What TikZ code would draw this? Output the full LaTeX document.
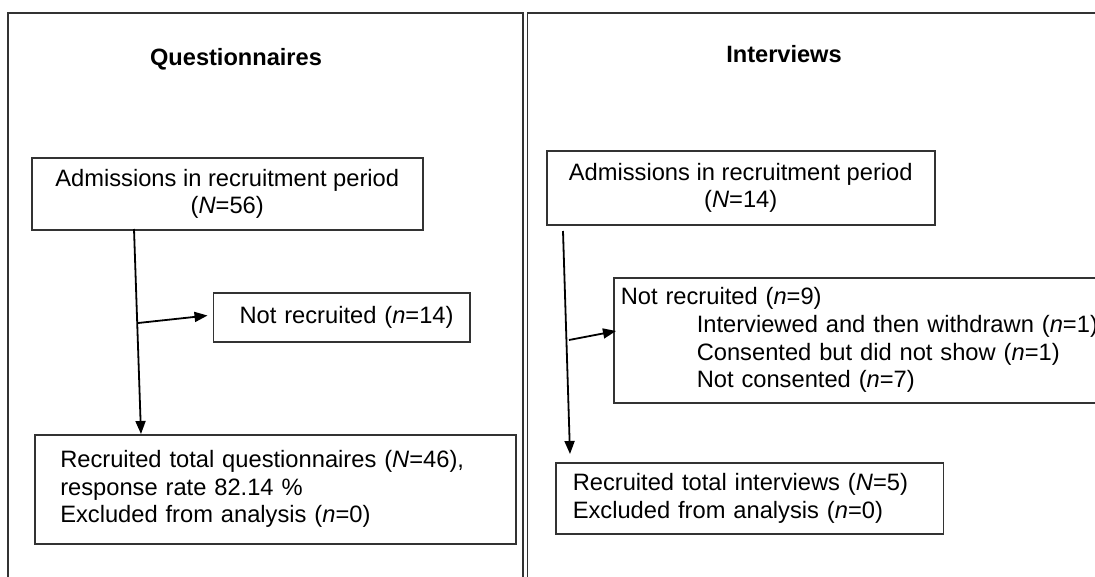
\documentclass[tikz,border=0pt]{standalone}
\usepackage{fontspec}
\setmainfont{Liberation Sans}
\usetikzlibrary{arrows.meta}
\begin{document}
\begin{tikzpicture}[x=1pt,y=-1pt,
  frame/.style={draw=black!80,line width=1.5pt},
  box/.style={draw=black!80,line width=1.5pt,anchor=north west,inner sep=0pt,
    font=\fontsize{23.7}{27.6}\selectfont},
  arr/.style={line width=1.8pt,-{Triangle[length=13pt,width=10pt]}},
  ttl/.style={font=\fontsize{23.6}{27.6}\selectfont\bfseries}]
\useasboundingbox (0,0) rectangle (1095,576);
\clip (0,0) rectangle (1095,576);
% panels
\draw[frame] (8,600) -- (8,13) -- (523,13) -- (523,600);
\draw[frame] (1120,13) -- (527.5,13) -- (527.5,600);
\node[ttl] (tq) at (236,59) {Questionnaires};
\node[ttl] (ti) at (784,54) {Interviews};
% questionnaire boxes
\node[box,minimum width=391pt,minimum height=72pt,align=center] (q1) at (31,157)
  {Admissions in recruitment period\\(\textit{N}=56)};
\node[box,minimum width=256.5pt,minimum height=49pt,align=left,text width=239pt,inner xsep=0pt] (q2) at (212.5,292)
  {\hspace*{17.5pt}Not recruited (\textit{n}=14)};
\node[box,minimum width=481pt,minimum height=109pt,align=left,text width=464pt] (q3) at (34,434)
  {\hspace*{17pt}\parbox[c]{460pt}{Recruited total questionnaires (\textit{N}=46),\\response rate 82.14 \%\\Excluded from analysis (\textit{n}=0)}};
% interview boxes
\node[box,minimum width=388pt,minimum height=74pt,align=center] (i1) at (546,150)
  {Admissions in recruitment period\\(\textit{N}=14)};
\node[box,minimum width=520pt,minimum height=125pt,align=left,text width=520pt] (i2) at (613,277)
  {\hspace*{7pt}\parbox[c]{510pt}{Not recruited (\textit{n}=9)\\
  \hspace*{76pt}Interviewed and then withdrawn (\textit{n}=1)\\
  \hspace*{76pt}Consented but did not show (\textit{n}=1)\\
  \hspace*{76pt}Not consented (\textit{n}=7)}};
\node[box,minimum width=387.5pt,minimum height=71pt,align=left,text width=387.5pt] (i3) at (555,462)
  {\hspace*{17pt}\parbox[c]{370pt}{Recruited total interviews (\textit{N}=5)\\Excluded from analysis (\textit{n}=0)}};
% connectors
\coordinate (qa) at (134,229);
\coordinate (qb) at (141,434);
\coordinate (qc) at (138,323);
\coordinate (qd) at (212.5,315);
\draw[arr] (qa) -- (qb);
\draw[arr,shorten >=5pt] (qc) -- (qd);
\coordinate (ia) at (563,231);
\coordinate (ib) at (570,454);
\coordinate (ic) at (569,340);
\coordinate (id) at (616,331);
\draw[arr] (ia) -- (ib);
\draw[arr] (ic) -- (id);
\end{tikzpicture}
\end{document}
